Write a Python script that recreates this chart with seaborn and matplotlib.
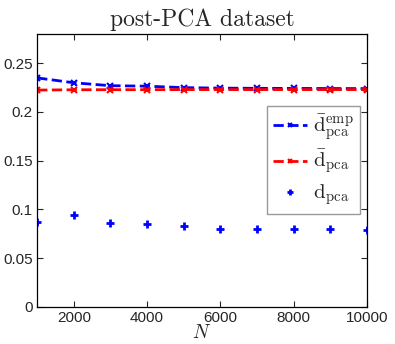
import numpy as np
import pandas as pd
import matplotlib
matplotlib.use("Agg")
import matplotlib.pyplot as plt
import seaborn as sns

# data
N = [1000, 2000, 3000, 4000, 5000, 6000, 7000, 8000, 9000, 10000]
d_emp = [0.235, 0.230, 0.227, 0.2265, 0.225, 0.2245, 0.2243, 0.2242, 0.2241, 0.224]
d_bar = [0.2225, 0.2228, 0.2229, 0.2229, 0.223, 0.223, 0.223, 0.223, 0.223, 0.223]
d_pca = [0.0875, 0.0944, 0.0861, 0.0854, 0.083, 0.0796, 0.0796, 0.0803, 0.0796, 0.0785]

sns.set_theme(style="ticks")
plt.rcParams["font.family"] = ["Liberation Sans", "DejaVu Sans"]
plt.rcParams["mathtext.fontset"] = "cm"
plt.rcParams["xtick.direction"] = "in"
plt.rcParams["ytick.direction"] = "in"

fig = plt.figure(figsize=(3.95, 3.44), dpi=100)
ax = fig.add_axes([0.094, 0.108, 0.835, 0.793])

sns.lineplot(x=N, y=d_emp, ax=ax, color="blue", linestyle="--", linewidth=2,
             marker="x", markersize=4, markeredgewidth=1.5, markeredgecolor="blue",
             label=r"$\bar{\mathrm{d}}_{\mathrm{pca}}^{\mathrm{emp}}$")
sns.lineplot(x=N, y=d_bar, ax=ax, color="red", linestyle="--", linewidth=2,
             marker="x", markersize=4, markeredgewidth=1.5, markeredgecolor="red",
             label=r"$\bar{\mathrm{d}}_{\mathrm{pca}}$")
ax.plot(N, d_pca, linestyle="none", marker="+", markersize=6, markeredgewidth=2,
        color="blue", label=r"$\mathrm{d}_{\mathrm{pca}}$")

ax.set_xlim(1000, 10000)
ax.set_ylim(0, 0.28)
ax.set_xticks([2000, 4000, 6000, 8000, 10000])
ax.set_yticks([0, 0.05, 0.1, 0.15, 0.2, 0.25])
ax.set_yticklabels(["0", "0.05", "0.1", "0.15", "0.2", "0.25"])
ax.tick_params(labelsize=11, top=True, right=True, length=4, width=0.8, pad=3)
for s in ax.spines.values():
    s.set_visible(True)
    s.set_linewidth(0.9)
    s.set_color("black")

ax.set_xlabel(r"$N$", fontsize=14, labelpad=-1)
ax.set_title("post-PCA dataset", fontfamily="cmr10", fontsize=17, pad=6)

leg = ax.legend(loc="upper right", bbox_to_anchor=(0.979, 0.736), fontsize=15,
                frameon=True, fancybox=False, edgecolor="gray", handlelength=1.6,
                handletextpad=0.3, borderpad=0.3, labelspacing=0.3, borderaxespad=0,
                markerscale=0.7)
leg.get_frame().set_linewidth(1.0)

fig.savefig("out.png", dpi=100)
